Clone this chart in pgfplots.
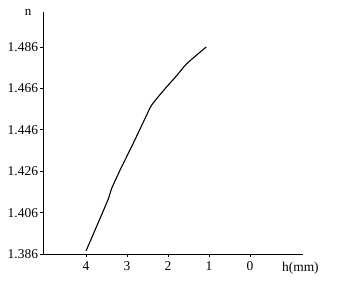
\documentclass[border=0pt]{standalone}
\usepackage{fontspec}
\setmainfont{Liberation Serif}
\usepackage{pgfplots}
\pgfplotsset{compat=1.18}
\begin{document}
\begin{tikzpicture}
\begin{axis}[
  name=ax,
  scale only axis,
  width=260bp, height=242bp,
  x dir=reverse,
  xmin=-1.29, xmax=5.05,
  ymin=1.386, ymax=1.503,
  axis lines=left,
  axis line style={-, line width=0.9bp},
  xtick={4,3,2,1,0},
  ytick={1.386,1.406,1.426,1.446,1.466,1.486},
  yticklabels={1.386,1.406,1.426,1.446,1.466,1.486},
  tick style={black, line width=0.8bp},
  major tick length=2.5bp,
  tick align=outside,
  ticklabel style={font=\fontsize{13.5}{15}\selectfont},
  yticklabel style={xshift=1bp},
  /pgf/number format/assume math mode=true,
  xticklabel style={yshift=-2bp},
  xlabel={h(mm)},
  xlabel style={at={(rel axis cs:0.99,0)}, anchor=north, yshift=-4.5bp, font=\fontsize{13.5}{15}\selectfont},
  ylabel={n},
  ylabel style={rotate=-90, at={(rel axis cs:0,1)}, anchor=center, xshift=-15bp, font=\fontsize{13}{15}\selectfont},
  clip=false,
]
\addplot[black, line width=1.1bp, smooth, tension=0.4] coordinates {
(4.00,1.3875)
(3.75,1.399)
(3.46,1.4125)
(3.38,1.4175)
(3.17,1.4266)
(2.85,1.4395)
(2.55,1.452)
(2.40,1.458)
(2.07,1.466)
(1.80,1.472)
(1.54,1.4781)
(1.07,1.4861)
};
\end{axis}
\path ([shift={(-43bp,-34bp)}]ax.south west) rectangle ([shift={(300bp,254bp)}]ax.south west);
\end{tikzpicture}
\end{document}
